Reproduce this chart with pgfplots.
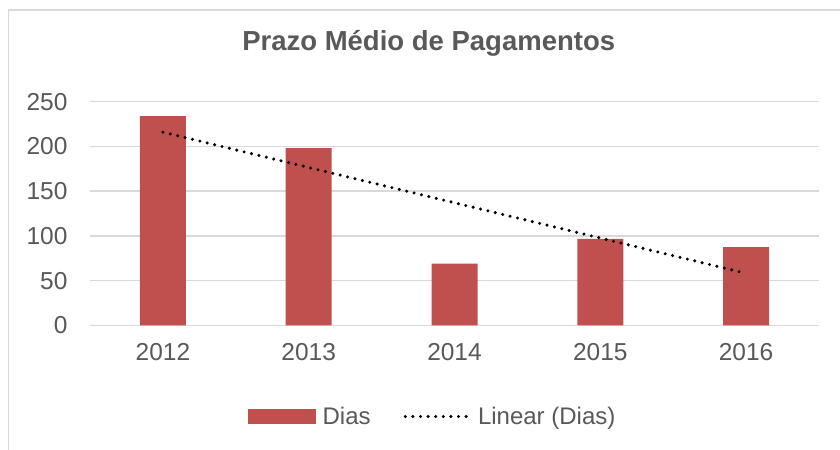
\documentclass[border=0pt]{standalone}
\usepackage{fontspec}
\setmainfont{Liberation Sans}
\usepackage{pgfplots}
\pgfplotsset{compat=1.18}
\definecolor{txtgray}{HTML}{595959}
\definecolor{gridgray}{HTML}{D9D9D9}
\definecolor{barred}{HTML}{C0504D}
\begin{document}
\begin{tikzpicture}
\path[use as bounding box] (0bp,0bp) rectangle (840bp,450bp);
\fill[white] (0bp,0bp) rectangle (840bp,450bp);
\draw[gridgray, line width=1.5bp] (8.5bp,0bp) -- (8.5bp,440bp) -- (840bp,440bp);
\node[anchor=base, text=txtgray, font=\fontsize{27.5bp}{31bp}\selectfont\bfseries] at (428.7bp,399.3bp) {Prazo Médio de Pagamentos};
\begin{axis}[
  at={(90bp,124.7bp)}, anchor=south west,
  scale only axis, width=729bp, height=223.6bp,
  xmin=0.5, xmax=5.5, ymin=0, ymax=250,
  xtick={1,2,3,4,5}, xticklabels={2012,2013,2014,2015,2016},
  ytick={0,50,100,150,200,250},
  major tick length=0pt,
  axis line style={draw=none},
  ymajorgrids, grid style={gridgray, line width=1.3bp},
  /pgf/number format/assume math mode=true,
  ticklabel style={font=\fontsize{24.5bp}{28bp}\selectfont, text=txtgray},
  yticklabel style={xshift=-19bp},
  xticklabel style={yshift=-15bp},
  clip=false,
  legend columns=2,
  legend style={at={(0.4705,-0.408)}, anchor=center, draw=none, fill=none,
    font=\fontsize{24bp}{28bp}\selectfont, text=txtgray,
    /tikz/every odd column/.append style={column sep=4bp},
    /tikz/every even column/.append style={column sep=30bp},
    nodes={inner sep=3bp},
    legend cell align=left},
]
\addplot[ybar, bar width=46bp, bar shift=0pt, fill=barred, draw=none,
  legend image code/.code={\fill[barred] (-3bp,-7.5bp) rectangle (65bp,7.5bp);}]
  coordinates {(1,234) (2,198) (3,69) (4,96.5) (5,87.5)};
\addlegendentry{Dias}
\addplot[black, line width=3.4bp, line cap=round, dash pattern=on 0bp off 7.6bp,
  legend image code/.code={\draw[black, line width=3.4bp, line cap=round, dash pattern=on 0bp off 7.6bp] (0bp,0bp) -- (64bp,0bp);}]
  coordinates {(1,215.9) (5,58.1)};
\addlegendentry{Linear (Dias)}
\end{axis}
\end{tikzpicture}
\end{document}
